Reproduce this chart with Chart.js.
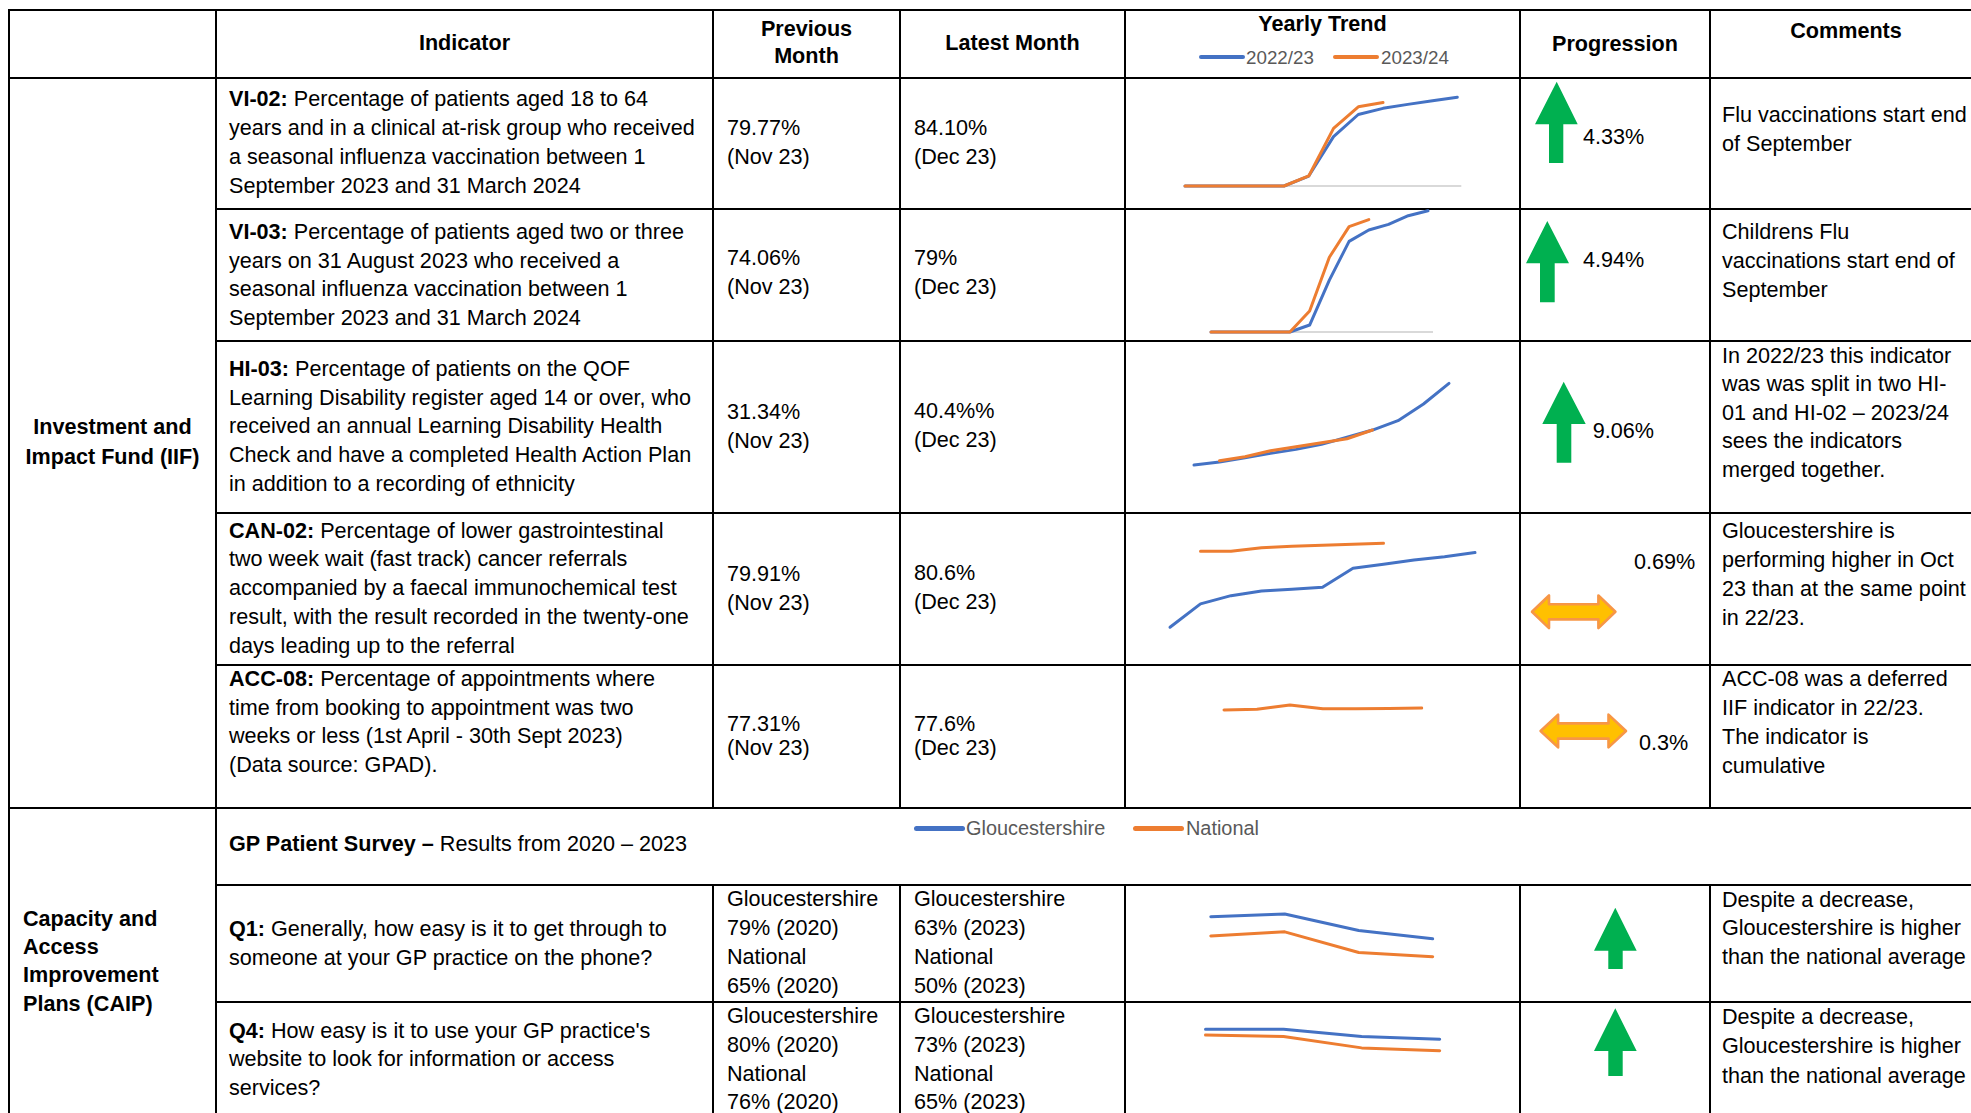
<!DOCTYPE html>
<html>
<head>
<meta charset="utf-8">
<script src="https://cdn.jsdelivr.net/npm/chart.js"></script>
<style>
  html, body { margin:0; padding:0; background:#fff; }
  #page { position:relative; width:1971px; height:1113px; overflow:hidden; background:#fff;
          font-family:"Liberation Sans", Arial, sans-serif; color:#000; }
  .ln { position:absolute; white-space:nowrap; }
  .rule { position:absolute; background:#000; }
  canvas { position:absolute; }
  .leg { position:absolute; border-radius:3px; }
</style>
</head>
<body>
<div id="page"></div>
<script>
// ---------------- DATA ----------------
const monthsAprMar = ['Apr','May','Jun','Jul','Aug','Sep','Oct','Nov','Dec','Jan','Feb','Mar'];
const monthsMayMar = ['May','Jun','Jul','Aug','Sep','Oct','Nov','Dec','Jan','Feb','Mar'];
const monthsJunDec = ['Jun','Jul','Aug','Sep','Oct','Nov','Dec'];
const surveyYears = ['2020','2021','2022','2023'];

const vi02_2223 = [0, 0, 0, 0, 0, 10, 49.7, 72, 78.2, 82.2, 85.9, 89.3];
const vi02_2324 = [0, 0, 0, 0, 0, 10.1, 58, 79.77, 84.10, null, null, null];

const vi03_2223 = [0, 0, 0, 0, 0, 4.9, 36.5, 63.7, 71.7, 75.6, 81.7, 85.2];
const vi03_2324 = [0, 0, 0, 0, 0, 14.8, 52.5, 74.06, 79, null, null, null];

const hi03_2223 = [3.8, 7.0, 11.5, 16.0, 20.2, 25.4, 32.8, 40.4, 50.2, 67.6, 89.2];
const hi03_2324 = [null, 8.4, 12.5, 18.8, 23, 27.2, 31.34, 40.4, null, null, null];

const can02_2223 = [22.7, 38.8, 44.5, 47.7, 48.9, 50.3, 63.4, 66.1, 69.1, 71.4, 74.2];
const can02_2324 = [null, 75.1, 75.1, 77.6, 78.5, 79.2, 79.91, 80.6, null, null, null];

const acc08_2324 = [76.6, 76.95, 79.1, 77.2, 77.2, 77.31, 77.6];

const q1_glos = [79, 81, 69, 63];
const q1_nat  = [65, 68, 53, 50];
const q4_glos = [80, 80, 75, 73];
const q4_nat  = [76, 75, 67, 65];

const trendLegend = ['2022/23', '2023/24'];
const surveyLegend = ['Gloucestershire', 'National'];

// ---------------- STYLE / LAYOUT ----------------
const BLUE = '#4472C4', ORANGE = '#ED7D31', GREEN = '#00B050';
const page = document.getElementById('page');
const FS = 21.6, LH = 29;

function txt(x, y0, step, lines, o) {
  o = o || {};
  lines.forEach((s, i) => {
    const d = document.createElement('div');
    d.className = 'ln';
    const lh = o.lh || LH;
    d.style.top = (y0 + i * step - lh / 2) + 'px';
    d.style.lineHeight = lh + 'px';
    d.style.fontSize = (o.size || FS) + 'px';
    if (o.bold) d.style.fontWeight = 'bold';
    if (o.color) d.style.color = o.color;
    if (o.center) { d.style.left = (x - 300) + 'px'; d.style.width = '600px'; d.style.textAlign = 'center'; }
    else d.style.left = x + 'px';
    d.innerHTML = s;
    page.appendChild(d);
  });
}
function hline(y, x1, x2) {
  const d = document.createElement('div'); d.className = 'rule';
  d.style.left = x1 + 'px'; d.style.width = (x2 - x1) + 'px';
  d.style.top = (y - 1) + 'px'; d.style.height = '2px'; page.appendChild(d);
}
function vline(x, y1, y2) {
  const d = document.createElement('div'); d.className = 'rule';
  d.style.top = y1 + 'px'; d.style.height = (y2 - y1) + 'px';
  d.style.left = (x - 1) + 'px'; d.style.width = '2px'; page.appendChild(d);
}
function legendLine(x1, x2, y, color) {
  const d = document.createElement('div'); d.className = 'leg';
  d.style.left = x1 + 'px'; d.style.width = (x2 - x1) + 'px';
  d.style.top = (y - 2.25) + 'px'; d.style.height = '4.5px'; d.style.background = color;
  page.appendChild(d);
}

// ---- grid ----
const R = 1975;
hline(10, 8, R); hline(78, 8, R);
[208.5, 341, 513, 665].forEach(y => hline(y, 216, R));
hline(807.5, 8, R); hline(884.5, 216, R); hline(1002, 216, R);
vline(9, 9, 1113); vline(216, 9, 1113);
[713, 900, 1125, 1520, 1710].forEach(x => { vline(x, 9, 808); vline(x, 884, 1113); });

// ---- header ----
txt(464.5, 42, 0, ['Indicator'], {bold:true, center:true});
txt(806.5, 28.3, 26.7, ['Previous', 'Month'], {bold:true, center:true});
txt(1012.5, 42, 0, ['Latest Month'], {bold:true, center:true});
txt(1322.5, 23.3, 0, ['Yearly Trend'], {bold:true, center:true});
txt(1615, 43, 0, ['Progression'], {bold:true, center:true});
txt(1846, 30, 0, ['Comments'], {bold:true, center:true});
legendLine(1199, 1245, 57, BLUE);
txt(1246, 57, 0, [trendLegend[0]], {size:18.8, color:'#595959'});
legendLine(1333, 1379, 57, ORANGE);
txt(1381, 57, 0, [trendLegend[1]], {size:18.8, color:'#595959'});

// ---- section labels ----
txt(112.5, 426.7, 29.3, ['Investment and', 'Impact Fund (IIF)'], {bold:true, center:true});
txt(23, 918.3, 28.3, ['Capacity and', 'Access', 'Improvement', 'Plans (CAIP)'], {bold:true});

// ---- indicator column ----
txt(229, 98, 29, ['<b>VI-02:</b> Percentage of patients aged 18 to 64',
  'years and in a clinical at-risk group who received',
  'a seasonal influenza vaccination between 1',
  'September 2023 and 31 March 2024']);
txt(229, 231.3, 28.8, ['<b>VI-03:</b> Percentage of patients aged two or three',
  'years on 31 August 2023 who received a',
  'seasonal influenza vaccination between 1',
  'September 2023 and 31 March 2024']);
txt(229, 368.3, 28.8, ['<b>HI-03:</b> Percentage of patients on the QOF',
  'Learning Disability register aged 14 or over, who',
  'received an annual Learning Disability Health',
  'Check and have a completed Health Action Plan',
  'in addition to a recording of ethnicity']);
txt(229, 530, 28.8, ['<b>CAN-02:</b> Percentage of lower gastrointestinal',
  'two week wait (fast track) cancer referrals',
  'accompanied by a faecal immunochemical test',
  'result, with the result recorded in the twenty-one',
  'days leading up to the referral']);
txt(229, 678.3, 28.7, ['<b>ACC-08:</b> Percentage of appointments where',
  'time from booking to appointment was two',
  'weeks or less (1st April - 30th Sept 2023)',
  '(Data source: GPAD).']);
txt(229, 843.3, 0, ['<b>GP Patient Survey –</b> Results from 2020 – 2023']);
txt(229, 928.3, 29, ['<b>Q1:</b> Generally, how easy is it to get through to',
  'someone at your GP practice on the phone?']);
txt(229, 1030, 28.5, ['<b>Q4:</b> How easy is it to use your GP practice\'s',
  'website to look for information or access', 'services?']);

// ---- previous month ----
txt(727, 127, 29, ['79.77%', '(Nov 23)']);
txt(727, 257.7, 29, ['74.06%', '(Nov 23)']);
txt(727, 411, 29, ['31.34%', '(Nov 23)']);
txt(727, 573, 29, ['79.91%', '(Nov 23)']);
txt(727, 723.5, 24, ['77.31%', '(Nov 23)']);
txt(727, 898.5, 29, ['Gloucestershire', '79% (2020)', 'National', '65% (2020)']);
txt(727, 1015.5, 28.8, ['Gloucestershire', '80% (2020)', 'National', '76% (2020)']);

// ---- latest month ----
txt(914, 127, 29, ['84.10%', '(Dec 23)']);
txt(914, 257.7, 29, ['79%', '(Dec 23)']);
txt(914, 410, 29, ['40.4%%', '(Dec 23)']);
txt(914, 572, 29, ['80.6%', '(Dec 23)']);
txt(914, 723, 24.5, ['77.6%', '(Dec 23)']);
txt(914, 898.5, 29, ['Gloucestershire', '63% (2023)', 'National', '50% (2023)']);
txt(914, 1015.5, 28.8, ['Gloucestershire', '73% (2023)', 'National', '65% (2023)']);

// ---- progression labels ----
txt(1583, 136, 0, ['4.33%']);
txt(1583, 259.3, 0, ['4.94%']);
txt(1592.7, 430.7, 0, ['9.06%']);
txt(1634, 561, 0, ['0.69%']);
txt(1639, 742.3, 0, ['0.3%']);

// ---- comments ----
txt(1722, 114.5, 28.5, ['Flu vaccinations start end', 'of September']);
txt(1722, 231.7, 28.7, ['Childrens Flu', 'vaccinations start end of', 'September']);
txt(1722, 355, 28.6, ['In 2022/23 this indicator', 'was was split in two HI-', '01 and HI-02 – 2023/24',
  'sees the indicators', 'merged together.']);
txt(1722, 530.7, 28.9, ['Gloucestershire is', 'performing higher in Oct', '23 than at the same point', 'in 22/23.']);
txt(1722, 678.3, 28.9, ['ACC-08 was a deferred', 'IIF indicator in 22/23.', 'The indicator is', 'cumulative']);
txt(1722, 899, 28.8, ['Despite a decrease,', 'Gloucestershire is higher', 'than the national average']);
txt(1722, 1016.7, 29.2, ['Despite a decrease,', 'Gloucestershire is higher', 'than the national average']);

// ---- survey legend ----
legendLine(914, 965, 828.7, BLUE);
txt(966, 828.7, 0, [surveyLegend[0]], {size:19.9, color:'#595959'});
legendLine(1133, 1184, 828.7, ORANGE);
txt(1186, 828.7, 0, [surveyLegend[1]], {size:19.9, color:'#595959'});

// ---- arrows (SVG) ----
const NS = 'http://www.w3.org/2000/svg';
const svg = document.createElementNS(NS, 'svg');
svg.setAttribute('width', 1971); svg.setAttribute('height', 1113);
svg.style.position = 'absolute'; svg.style.left = '0'; svg.style.top = '0';
page.appendChild(svg);
function poly(pts, fill, stroke, sw) {
  const p = document.createElementNS(NS, 'polygon');
  p.setAttribute('points', pts.map(q => q.join(',')).join(' '));
  p.setAttribute('fill', fill);
  if (stroke) { p.setAttribute('stroke', stroke); p.setAttribute('stroke-width', sw); p.setAttribute('stroke-linejoin', 'round'); }
  svg.appendChild(p);
}
function upArrow(tipX, tipY, baseY, hx1, hx2, sx1, sx2, bot) {
  poly([[tipX, tipY], [hx2, baseY], [sx2, baseY], [sx2, bot], [sx1, bot], [sx1, baseY], [hx1, baseY]], GREEN);
}
upArrow(1556.7, 81.7, 124.3, 1535, 1577.7, 1549, 1563.3, 163);
upArrow(1547.3, 221, 263.3, 1526, 1569, 1540, 1554.7, 302.3);
upArrow(1563.7, 381.7, 424, 1542.3, 1585.7, 1556.7, 1571.3, 462.7);
upArrow(1615.3, 907.7, 950.7, 1594, 1636.7, 1608.3, 1622.7, 969);
upArrow(1615.3, 1008.3, 1051, 1594, 1636.7, 1608.3, 1622.7, 1076);
function dblArrow(x1, x2, cy, hh, sh, hl) {
  poly([[x1, cy], [x1 + hl, cy - hh], [x1 + hl, cy - sh], [x2 - hl, cy - sh], [x2 - hl, cy - hh], [x2, cy],
        [x2 - hl, cy + hh], [x2 - hl, cy + sh], [x1 + hl, cy + sh], [x1 + hl, cy + hh]], '#FFC000', '#F79646', 2.6);
}
dblArrow(1532, 1615.4, 611.8, 16.3, 7.6, 17);
dblArrow(1540.6, 1626, 731, 16.4, 7.6, 17.5);

// ---------------- SPARKLINES (Chart.js) ----------------
const baselinePlugin = {
  id: 'baseline',
  beforeDatasetsDraw(chart, args, opts) {
    if (!opts || !opts.show) return;
    const y = chart.scales.y.getPixelForValue(0);
    const ctx = chart.ctx;
    ctx.save();
    ctx.strokeStyle = '#D9D9D9'; ctx.lineWidth = 2;
    ctx.beginPath();
    ctx.moveTo(chart.chartArea.left, y);
    ctx.lineTo(chart.chartArea.right + (opts.ext || 0), y);
    ctx.stroke();
    ctx.restore();
  }
};

function spark(g, labels, series, yMin, yMax, baseline) {
  const pad = 8;
  const cl = Math.floor(g.l - pad), ct = Math.floor(g.t - pad);
  const cr = Math.ceil(g.r + pad), cb = Math.ceil(g.b + pad);
  const cv = document.createElement('canvas');
  cv.width = cr - cl; cv.height = cb - ct;
  cv.style.left = cl + 'px'; cv.style.top = ct + 'px';
  cv.style.width = (cr - cl) + 'px'; cv.style.height = (cb - ct) + 'px';
  page.appendChild(cv);
  new Chart(cv, {
    type: 'line',
    data: {
      labels: labels,
      datasets: series.map(s => ({
        data: s.data, borderColor: s.color, backgroundColor: s.color, order: s.order,
        borderWidth: 3, pointRadius: 0, tension: 0, clip: false, spanGaps: false,
        borderCapStyle: 'round', borderJoinStyle: 'round'
      }))
    },
    options: {
      responsive: false, animation: false, events: [], devicePixelRatio: 1,
      layout: { padding: { left: g.l - cl, right: cr - g.r, top: g.t - ct, bottom: cb - g.b } },
      plugins: { legend: { display: false }, tooltip: { enabled: false }, title: { display: false },
                 baseline: { show: !!baseline, ext: baseline || 0 } },
      scales: {
        x: { display: false, offset: false },
        y: { display: false, min: yMin, max: yMax }
      }
    },
    plugins: [baselinePlugin]
  });
}

// VI-02: 0 at y=186, ~0.993 px per %
spark({l:1185, r:1457.3, t:186 - 90 * 0.993, b:186}, monthsAprMar,
  [{data: vi02_2223, color: BLUE, order: 1}, {data: vi02_2324, color: ORANGE, order: 0}], 0, 90, 4);
// VI-03: 0 at y=332, ~1.423 px per %
spark({l:1211, r:1428, t:332 - 90 * 1.423, b:332}, monthsAprMar,
  [{data: vi03_2223, color: BLUE, order: 1}, {data: vi03_2324, color: ORANGE, order: 0}], 0, 90, 5);
// HI-03: 0 at y=468.7, ~0.957 px per %
spark({l:1194, r:1449, t:468.7 - 100 * 0.957, b:468.7}, monthsMayMar,
  [{data: hi03_2223, color: BLUE, order: 1}, {data: hi03_2324, color: ORANGE, order: 0}], 0, 100, 0);
// CAN-02: 80.6 at y=543.3, ~1.45 px per %
spark({l:1170, r:1475, t:543.3 - (100 - 80.6) * 1.45, b:543.3 + (80.6 - 10) * 1.45}, monthsMayMar,
  [{data: can02_2223, color: BLUE, order: 1}, {data: can02_2324, color: ORANGE, order: 0}], 10, 100, 0);
// ACC-08: 77.6 at y=708, ~2 px per %
spark({l:1224, r:1421.7, t:708 - (90 - 77.6) * 2, b:708 + (77.6 - 60) * 2}, monthsJunDec,
  [{data: acc08_2324, color: ORANGE, order: 0}], 60, 90, 0);
// Q1: 0 at y=1025.5, ~1.377 px per %
spark({l:1210.8, r:1432.7, t:1025.5 - 90 * 1.377, b:1025.5 - 40 * 1.377}, surveyYears,
  [{data: q1_glos, color: BLUE, order: 1}, {data: q1_nat, color: ORANGE, order: 0}], 40, 90, 0);
// Q4: 0 at y=1143.7, ~1.43 px per %
spark({l:1205.5, r:1439.7, t:1143.7 - 90 * 1.43, b:1143.7 - 50 * 1.43}, surveyYears,
  [{data: q4_glos, color: BLUE, order: 1}, {data: q4_nat, color: ORANGE, order: 0}], 50, 90, 0);
</script>
</body>
</html>
